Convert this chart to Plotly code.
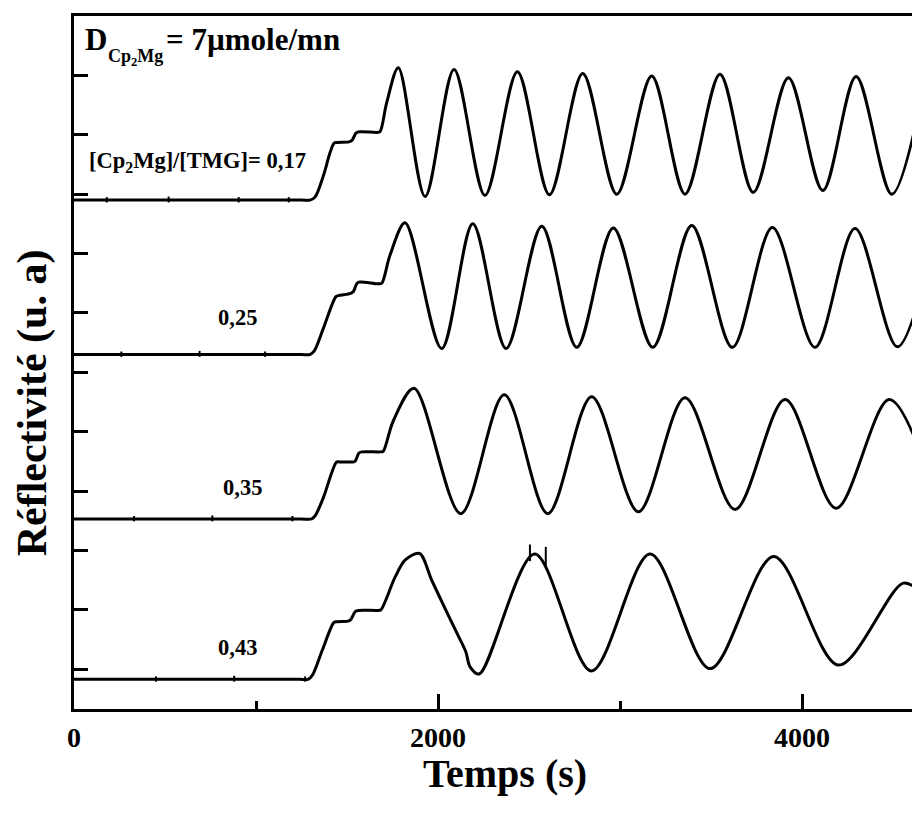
import plotly.graph_objects as go

# ---------------- data ----------------
# time (s) and reflectivity (arbitrary units) for each [Cp2Mg]/[TMG] ratio
t_017 = [0, 400, 800, 1100, 1250, 1297, 1324, 1370, 1407, 1429, 1445, 1510, 1526, 1550, 1571,
         1665, 1681, 1718, 1782, 1929, 2088, 2258, 2436, 2612, 2795, 2982, 3174, 3357, 3549,
         3732, 3925, 4114, 4297, 4493, 4681]
r_017 = [7.90, 7.90, 7.90, 7.90, 7.90, 7.90, 7.95, 8.31, 8.70, 8.86, 8.87, 8.88, 8.90, 9.03, 9.05,
         9.04, 9.05, 9.54, 10.13, 7.96, 10.10, 7.98, 10.06, 7.99, 10.03, 8.00, 9.99, 8.00, 10.02,
         8.03, 9.96, 8.06, 9.98, 8.00, 9.98]

t_025 = [0, 400, 800, 1100, 1250, 1297, 1320, 1370, 1438, 1452, 1520, 1535, 1555, 1571, 1675,
         1691, 1736, 1819, 2020, 2191, 2374, 2570, 2762, 2963, 3180, 3394, 3617, 3837, 4071,
         4291, 4524, 4742]
r_025 = [5.30, 5.30, 5.30, 5.30, 5.30, 5.30, 5.36, 5.74, 6.27, 6.29, 6.33, 6.36, 6.50, 6.52, 6.49,
         6.50, 6.97, 7.52, 5.40, 7.50, 5.40, 7.46, 5.42, 7.43, 5.42, 7.47, 5.42, 7.44, 5.42,
         7.42, 5.43, 7.45]

t_035 = [0, 400, 800, 1100, 1250, 1306, 1328, 1370, 1443, 1460, 1530, 1544, 1565, 1581, 1685,
         1699, 1754, 1868, 2125, 2364, 2603, 2844, 3101, 3357, 3632, 3907, 4187, 4480, 4758]
r_035 = [2.53, 2.53, 2.53, 2.53, 2.53, 2.53, 2.60, 2.89, 3.49, 3.49, 3.49, 3.50, 3.64, 3.66, 3.66,
         3.67, 4.18, 4.73, 2.62, 4.62, 2.62, 4.59, 2.65, 4.57, 2.69, 4.54, 2.71, 4.54, 2.70]

t_043 = [0, 400, 800, 1100, 1240, 1286, 1310, 1364, 1426, 1440, 1505, 1519, 1545, 1564, 1672,
         1686, 1764, 1820, 1898, 1965, 2050, 2110, 2153, 2176, 2227, 2531, 2843, 3165, 3495,
         3844, 4200, 4556, 4648]
r_043 = [-0.17, -0.17, -0.17, -0.17, -0.17, -0.17, -0.10, 0.32, 0.78, 0.80, 0.81, 0.83, 0.97, 0.99,
         0.99, 1.00, 1.55, 1.84, 1.95, 1.50, 0.95, 0.57, 0.29, 0.04, -0.08, 1.94, -0.03, 1.94,
         0.01, 1.90, 0.07, 1.45, 1.31]

# noise spikes visible on the traces (time, low, high)
spike_t = [2505, 2592, 180, 520, 905, 1180, 260, 690, 1050, 330, 760, 1200, 450, 880, 1270]
spike_lo = [1.82, 1.72, 7.86, 7.86, 7.86, 7.86, 5.26, 5.26, 5.26, 2.49, 2.49, 2.49, -0.21, -0.21, -0.21]
spike_hi = [2.10, 2.06, 7.95, 7.96, 7.95, 7.95, 5.35, 5.36, 5.35, 2.58, 2.59, 2.58, -0.12, -0.11, -0.12]

series = [(t_017, r_017), (t_025, r_025), (t_035, r_035), (t_043, r_043)]
ratio_labels = ["[Cp<sub>2</sub>Mg]/[TMG]= 0,17", "0,25", "0,35", "0,43"]
x_ticks = [0, 2000, 4000]
x_minor = [1000, 3000]
y_ticks = list(range(0, 11))

FONT = "Liberation Serif"

fig = go.Figure()
for t, r in series:
    fig.add_trace(go.Scatter(x=t, y=r, mode="lines",
                             line=dict(color="black", width=3, shape="spline", smoothing=0.9),
                             hoverinfo="skip"))
sx, sy = [], []
for t, lo, hi in zip(spike_t, spike_lo, spike_hi):
    sx += [t, t, None]
    sy += [lo, hi, None]
fig.add_trace(go.Scatter(x=sx, y=sy, mode="lines",
                         line=dict(color="black", width=2), hoverinfo="skip"))

W, H = 920, 814
OFF = 8  # page offset of the figure inside the browser window
L, R, T, B = 66, 8, 5, 113
pw, ph = W - L - R, H - T - B


def px(xs):
    return (xs - OFF - L) / pw


def py(ys):
    return (H - B - (ys - OFF)) / ph


ann = []
ann.append(dict(text="D", x=px(83), y=py(37), xanchor="left", yanchor="middle",
                font=dict(size=31, family=FONT, color="black", weight="bold")))
ann.append(dict(text="Cp<sub>2</sub>Mg", x=px(106), y=py(55), xanchor="left", yanchor="middle",
                font=dict(size=18, family=FONT, color="black", weight="bold")))
ann.append(dict(text="= 7µmole/mn", x=px(164), y=py(37), xanchor="left", yanchor="middle",
                font=dict(size=31, family=FONT, color="black", weight="bold")))
label_pos = [(197, 160), (237, 316), (242, 487), (237, 647)]
for txt, (lx, ly) in zip(ratio_labels, label_pos):
    ann.append(dict(text=txt, x=px(lx), y=py(ly), xanchor="center", yanchor="middle",
                    font=dict(size=22.5, family=FONT, color="black", weight="bold")))
ann.append(dict(text="Réflectivité (u. a)", textangle=-90, x=px(32), y=py(402),
                xanchor="center", yanchor="middle",
                font=dict(size=42, family=FONT, color="black", weight="bold")))
ann.append(dict(text="Temps (s)", x=px(505), y=py(774), xanchor="center", yanchor="middle",
                font=dict(size=40, family=FONT, color="black", weight="bold")))
for a in ann:
    a.update(xref="paper", yref="paper", showarrow=False)

fig.update_layout(
    width=W, height=H,
    margin=dict(l=L, r=R, t=T, b=B),
    plot_bgcolor="white", paper_bgcolor="white",
    showlegend=False,
    font=dict(family=FONT, color="black"),
    annotations=ann,
    xaxis=dict(range=[0, 4648], tickvals=x_ticks, ticktext=[str(v) for v in x_ticks],
               ticks="inside", ticklen=15, tickwidth=3, tickcolor="black",
               showline=True, linewidth=3, linecolor="black", mirror=True,
               showgrid=False, zeroline=False, ticklabelstandoff=1,
               tickfont=dict(size=28, family=FONT, color="black", weight="bold"),
               minor=dict(tickvals=x_minor, ticks="inside", ticklen=8, tickwidth=3,
                          tickcolor="black", showgrid=False)),
    yaxis=dict(range=[-0.67, 11.0], tickvals=y_ticks, ticks="inside", ticklen=14,
               tickwidth=3, tickcolor="black", showticklabels=False,
               showline=True, linewidth=3, linecolor="black", mirror=False,
               showgrid=False, zeroline=False),
)

fig.write_html("out.html")
